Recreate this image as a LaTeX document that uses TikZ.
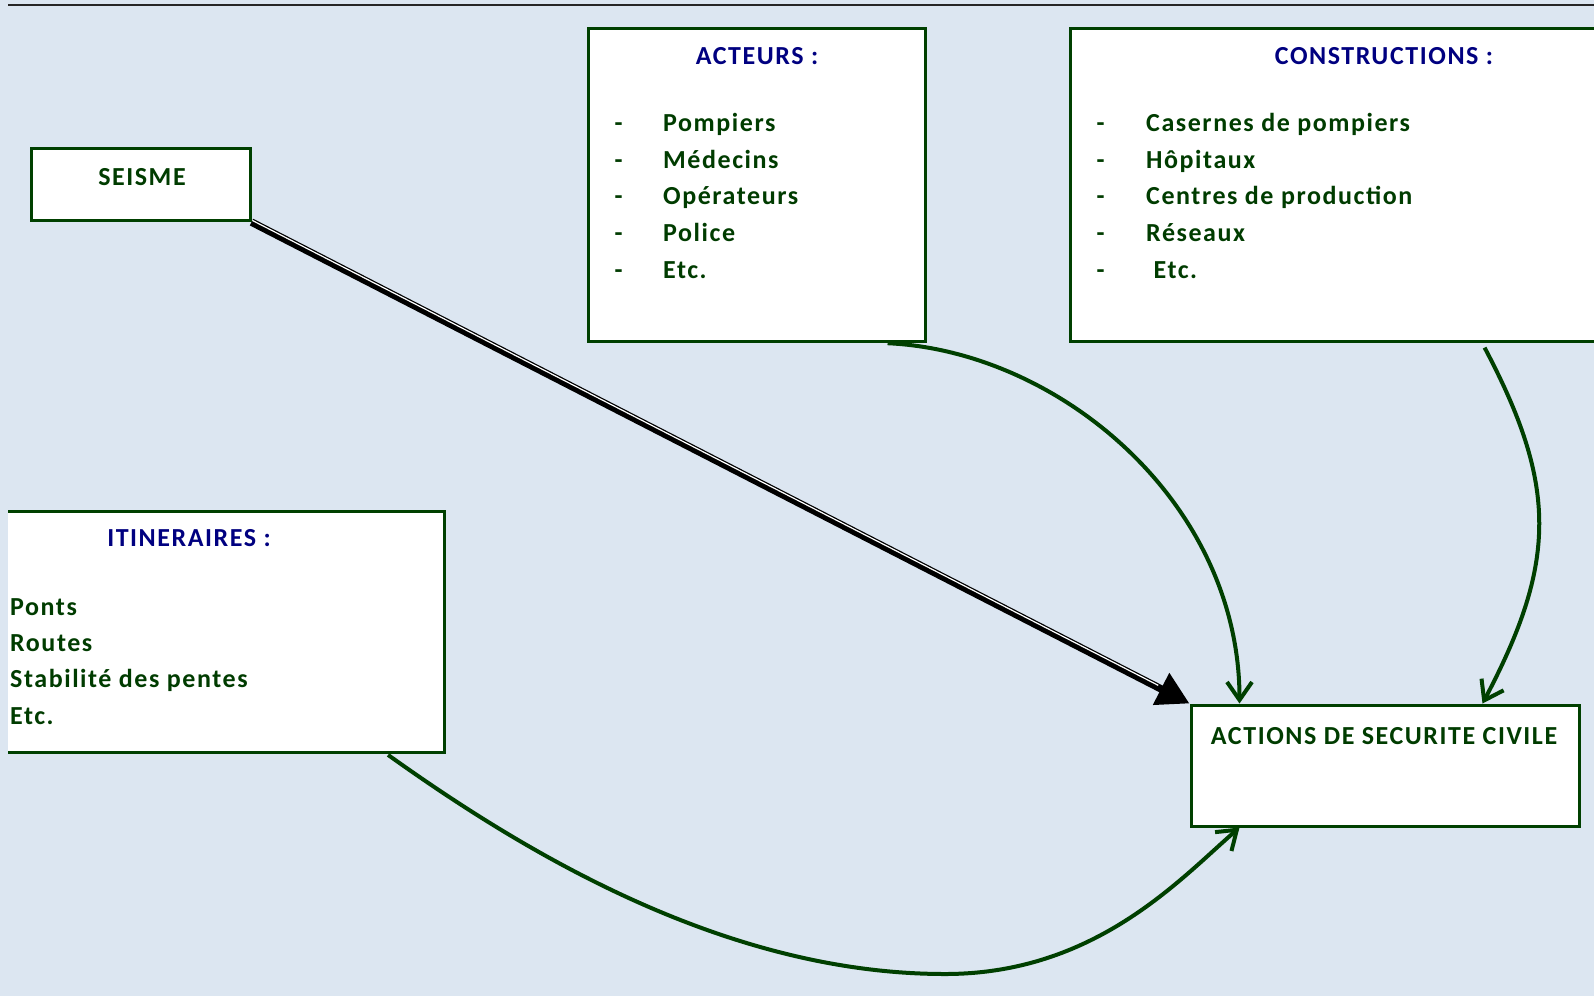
\documentclass[tikz,border=0pt]{standalone}
\usepackage{fontspec}
\setmainfont{Carlito}
\newfontfamily\boxfont[LetterSpace=6]{Carlito}
\usetikzlibrary{arrows.meta, positioning}

\definecolor{bgblue}{RGB}{220,230,241}
\definecolor{boxgreen}{RGB}{0,64,0}
\definecolor{txtgreen}{RGB}{0,60,0}
\definecolor{headblue}{RGB}{0,0,128}

\begin{document}
\begin{tikzpicture}[x=1pt, y=-1pt,
    box/.style={rectangle, draw=boxgreen, fill=white, line width=3pt, inner sep=0pt},
    lbl/.style={font=\boxfont\fontsize{26}{31}\selectfont\bfseries, text=txtgreen, inner sep=0pt},
    headlbl/.style={lbl, text=headblue},
    flow/.style={draw=boxgreen, line width=4pt, -{Straight Barb[length=18pt, width=25pt]}},
    impact/.style={draw=black, line width=7.5pt, -{Triangle[length=32pt, width=34pt]}},
  ]
  \useasboundingbox (0,0) rectangle (1594,996);
  \fill[bgblue] (0,0) rectangle (1594,996);
  \draw[line width=2pt, black!85] (8,5) -- (1594,5);

  % boxes
  \node[box, minimum width=218.5pt, minimum height=72.6pt] (seisme) at (140.75,184.3) {};
  \node[box, minimum width=336.7pt, minimum height=313.4pt] (acteurs) at (756.7,185) {};
  \node[box, minimum width=549.5pt, minimum height=313.4pt] (constr) at (1345.25,185) {};
  \node[box, draw=none, outer sep=0pt, minimum width=436pt, minimum height=241pt] (itin) at (226,631.5) {};
  \draw[boxgreen, line width=3pt] (itin.north west) -- (itin.north east) -- (itin.south east) -- (itin.south west);
  \node[box, minimum width=388pt, minimum height=121pt] (actions) at (1385,765.5) {};

  % texts
  \node[lbl, anchor=base] (seisme-lbl) at (142,185) {SEISME};

  \node[headlbl, anchor=base] (acteurs-lbl) at (757,64.3) {ACTEURS :};
  \foreach \t [count=\i] in {Pompiers, Médecins, Opérateurs, Police, Etc.} {
    \node[lbl, anchor=base] (acteurs-dash-\i) at (618.5, 95+36.65*\i) {-};
    \node[lbl, anchor=base west] (acteurs-\i) at (663, 95+36.65*\i) {\t};
  }

  \node[headlbl, anchor=base] (constr-lbl) at (1384,64.5) {CONSTRUCTIONS :};
  \foreach \t [count=\i] in {Casernes de pompiers, Hôpitaux, Centres de production, Réseaux, {\ Etc.}} {
    \node[lbl, anchor=base] (constr-dash-\i) at (1100.5, 95+36.65*\i) {-};
    \node[lbl, anchor=base west] (constr-\i) at (1146, 95+36.65*\i) {\t};
  }

  \node[headlbl, anchor=base] (itin-lbl) at (189,546.7) {ITINERAIRES :};
  \node[lbl, anchor=base west] (itin-1) at (10,615) {Ponts};
  \node[lbl, anchor=base west] (itin-2) at (10,651) {Routes};
  \node[lbl, anchor=base west] (itin-3) at (10,687) {Stabilité des pentes};
  \node[lbl, anchor=base west] (itin-4) at (10,724) {Etc.};

  \node[lbl, anchor=base] (actions-lbl) at (1384,744.8) {ACTIONS DE SECURITE CIVILE};

  % connectors
  \draw[impact] (seisme.south east) -- (actions.north west);
  \draw[white, line width=1.2pt, shorten >=36pt] ([shift={(0.8,-1.7)}]seisme.south east) -- ([shift={(0.8,-1.7)}]actions.north west);
  \draw[flow] ([xshift=-39pt]acteurs.south east) .. controls +(173,8) and +(0,-200) .. ([xshift=50pt]actions.north west);
  \draw[flow, shorten <=5pt] ([xshift=137pt]constr.south) .. controls +(75,142) and +(75,-142) .. ([xshift=-98pt]actions.north east);
  \draw[flow, shorten <=5pt] ([xshift=-60pt]itin.south east) .. controls +(140,100) and +(-220,0) .. ++(561,222)
    .. controls +(150,0) and +(-60,52) .. ([xshift=50pt]actions.south west);
\end{tikzpicture}
\end{document}
